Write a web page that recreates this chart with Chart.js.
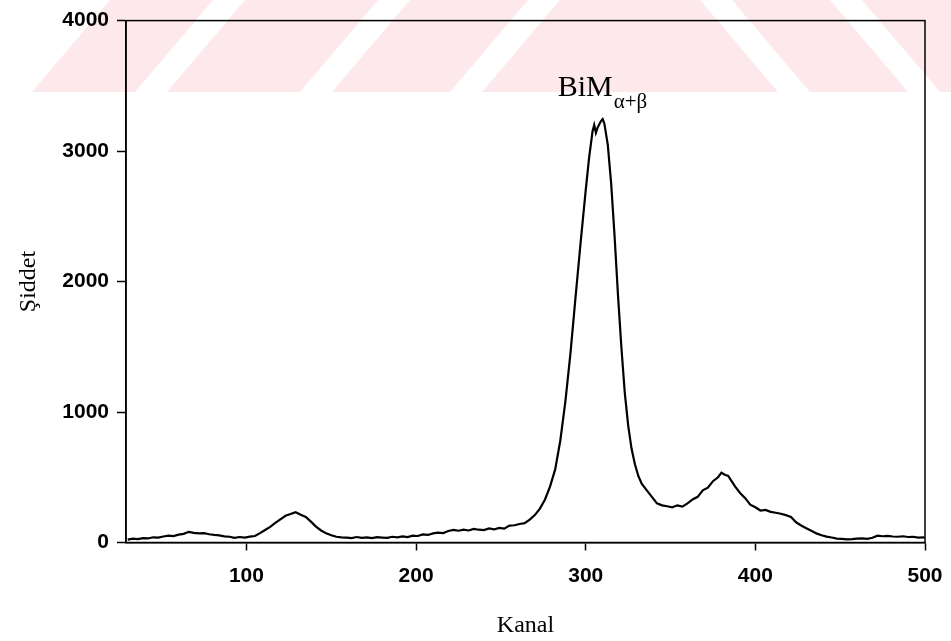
<!DOCTYPE html>
<html>
<head>
<meta charset="utf-8">
<script src="https://cdn.jsdelivr.net/npm/chart.js@4.4.0/dist/chart.umd.min.js"></script>
<style>
html, body { margin: 0; padding: 0; background: #fff; }
</style>
</head>
<body>
<canvas id="spektrum" width="951" height="641"></canvas>
<script>
// kanal numarasi ve siddet degerleri (gorselden okunan)
const kanal = [
    30, 33, 36, 39, 42, 45, 48, 51, 54, 57,
    60, 63, 66, 69, 72, 75, 78, 81, 84, 87,
    90, 93, 96, 99, 102, 105, 108, 111, 114, 117,
    120, 123, 126, 129, 132, 135, 138, 141, 144, 147,
    150, 153, 156, 159, 162, 165, 168, 171, 174, 177,
    180, 183, 186, 189, 192, 195, 198, 201, 204, 207,
    210, 213, 216, 219, 222, 225, 228, 231, 234, 237,
    240, 243, 246, 249, 252, 255, 258, 261, 264, 267,
    270, 273, 276, 279, 282, 285, 288, 291, 294, 297,
    300, 302, 304, 305, 306, 307, 309, 310, 311, 313,
    315, 317, 319, 321, 323, 325, 327, 329, 331, 333,
    336, 339, 342, 345, 348, 351, 354, 357, 360, 363,
    366, 369, 372, 375, 378, 380, 382, 384, 386, 388,
    391, 394, 397, 400, 403, 406, 409, 412, 415, 418,
    421, 424, 427, 430, 433, 436, 439, 442, 445, 448,
    451, 454, 457, 460, 463, 466, 469, 472, 475, 478,
    481, 484, 487, 490, 493, 496, 499, 500
];
const siddet = [
    22, 30, 26, 34, 31, 40, 37, 46, 52, 49,
    60, 66, 82, 74, 70, 72, 63, 58, 55, 47,
    44, 36, 42, 38, 45, 50, 72, 96, 120, 150,
    178, 205, 218, 232, 212, 196, 160, 122, 92, 70,
    56, 44, 40, 38, 34, 42, 36, 39, 33, 41,
    38, 35, 44, 40, 47, 42, 52, 50, 62, 58,
    70, 75, 72, 88, 96, 90, 98, 92, 104, 98,
    95, 108, 100, 112, 106, 130, 132, 142, 148, 176,
    210, 260, 330, 430, 560, 780, 1080, 1450, 1880, 2300,
    2700, 2950, 3150, 3200, 3140, 3180, 3230, 3245, 3210, 3050,
    2750, 2350, 1900, 1500, 1150, 900, 720, 600, 510, 450,
    400, 350, 300, 285, 278, 270, 285, 275, 300, 330,
    350, 400, 420, 470, 500, 535, 520, 510, 470, 430,
    380, 340, 290, 270, 245, 250, 235, 228, 220, 210,
    195, 155, 130, 110, 90, 70, 56, 45, 38, 30,
    28, 24, 26, 30, 32, 28, 36, 52, 48, 50,
    46, 44, 48, 42, 44, 38, 40, 36
];
const xTicks = [100, 200, 300, 400, 500];
const yTicks = [0, 1000, 2000, 3000, 4000];

const points = kanal.map((k, i) => ({ x: k, y: siddet[i] }));

// arka plandaki pembe filigran seridi
const filigran = {
    id: 'filigran',
    beforeDraw(chart) {
        const c = chart.ctx;
        c.save();
        c.fillStyle = '#ffffff';
        c.fillRect(0, 0, chart.width, chart.height);
        c.fillStyle = '#fde8ec';
        c.beginPath();
        c.moveTo(32, 92);
        c.lineTo(110, 0);
        c.lineTo(951, 0);
        c.lineTo(951, 92);
        c.closePath();
        c.fill();
        c.fillStyle = '#ffffff';
        [135, 300, 450].forEach(b => {
            c.beginPath();
            c.moveTo(b, 92);
            c.lineTo(b + 32, 92);
            c.lineTo(b + 110, 0);
            c.lineTo(b + 78, 0);
            c.closePath();
            c.fill();
        });
        [700, 830].forEach(b => {
            c.beginPath();
            c.moveTo(b, 0);
            c.lineTo(b + 32, 0);
            c.lineTo(b + 110, 92);
            c.lineTo(b + 78, 92);
            c.closePath();
            c.fill();
        });
        c.restore();
    }
};

// cerceve ve pik etiketi
const cerceve = {
    id: 'cerceve',
    afterDraw(chart) {
        const c = chart.ctx;
        const a = chart.chartArea;
        const xs = chart.scales.x;
        const ys = chart.scales.y;
        c.save();
        c.strokeStyle = '#000';
        c.lineWidth = 1.5;
        c.strokeRect(a.left, a.top, a.right - a.left, a.bottom - a.top);

        c.fillStyle = '#000';
        c.textBaseline = 'alphabetic';
        const lx = xs.getPixelForValue(283.5);
        const ly = ys.getPixelForValue(3420);
        c.font = '30px "Liberation Serif"';
        c.fillText('BiM', lx, ly);
        const w = c.measureText('BiM').width;
        c.font = '21px "Liberation Serif"';
        c.fillText('α+β', lx + w + 1, ly + 12);
        c.restore();
    }
};

const ctx = document.getElementById('spektrum');
const spektrum = new Chart(ctx, {
    type: 'line',
    data: {
        datasets: [{
            data: points,
            borderColor: '#000',
            borderWidth: 2.2,
            pointRadius: 0,
            tension: 0,
            fill: false
        }]
    },
    options: {
        responsive: false,
        animation: false,
        layout: {
            padding: { left: 0, right: 26, top: 15, bottom: 0 }
        },
        plugins: {
            legend: { display: false },
            tooltip: { enabled: false }
        },
        scales: {
            x: {
                type: 'linear',
                min: 29,
                max: 500,
                afterBuildTicks: (scale) => {
                    scale.ticks = xTicks.map(v => ({ value: v }));
                },
                afterFit: (scale) => {
                    scale.height = 98.5;
                    scale.paddingLeft = 0;
                    scale.paddingRight = 0;
                },
                grid: {
                    drawOnChartArea: false,
                    drawTicks: true,
                    tickLength: 8,
                    tickWidth: 1.5,
                    color: '#000'
                },
                border: { display: true, color: '#000', width: 1.5 },
                ticks: {
                    color: '#000',
                    padding: 13,
                    maxRotation: 0,
                    callback: (v) => String(v),
                    font: { family: '"Liberation Sans", Arial', size: 21, weight: 'bold' }
                },
                title: {
                    display: true,
                    text: 'Kanal',
                    color: '#000',
                    padding: { top: 0, bottom: 1 },
                    font: { family: '"Liberation Serif", "Times New Roman"', size: 24 }
                }
            },
            y: {
                min: 0,
                max: 4000,
                afterBuildTicks: (scale) => {
                    scale.ticks = yTicks.map(v => ({ value: v }));
                },
                afterFit: (scale) => {
                    scale.width = 126;
                },
                grid: {
                    drawOnChartArea: false,
                    drawTicks: true,
                    tickLength: 9,
                    tickWidth: 1.5,
                    color: '#000'
                },
                border: { display: true, color: '#000', width: 1.5 },
                ticks: {
                    color: '#000',
                    padding: 8,
                    callback: (v) => String(v),
                    font: { family: '"Liberation Sans", Arial', size: 21, weight: 'bold' }
                },
                title: {
                    display: true,
                    text: 'Şiddet',
                    color: '#000',
                    padding: { top: 14, bottom: 0 },
                    font: { family: '"Liberation Serif", "Times New Roman"', size: 24 }
                }
            }
        }
    },
    plugins: [filigran, cerceve]
});
</script>
</body>
</html>
